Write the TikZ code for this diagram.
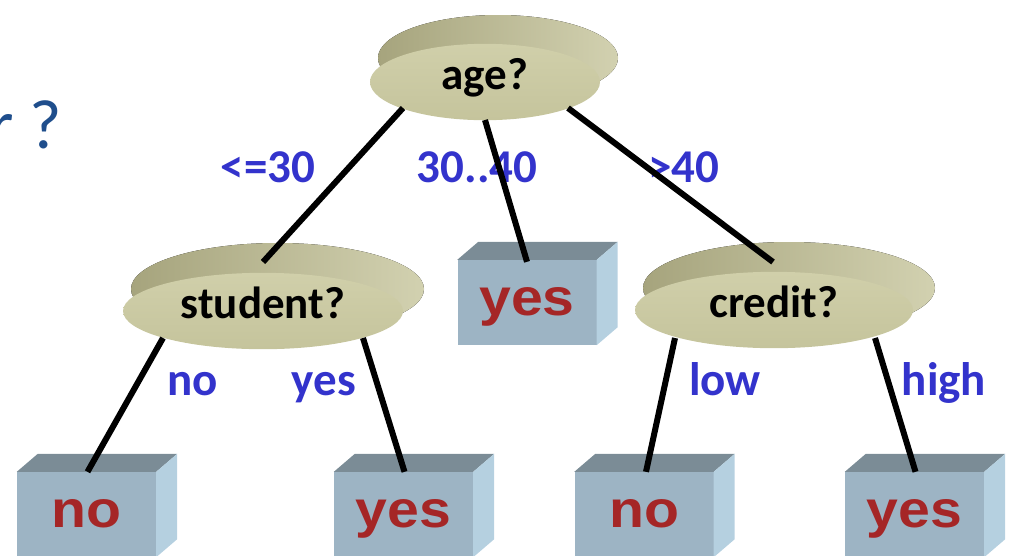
\documentclass[tikz,border=0pt]{standalone}
\usepackage{fontspec}
\setmainfont{Carlito}
\newfontfamily\leaffont{Liberation Sans}[FakeStretch=1.1]
\usetikzlibrary{backgrounds,shapes.geometric}
\definecolor{DiscDark}{HTML}{A6A47D}
\definecolor{DiscLight}{HTML}{D2D1B0}
\definecolor{DiscFace}{HTML}{C5C49C}
\definecolor{DiscFaceTop}{HTML}{D0CFAA}
\definecolor{BoxFront}{HTML}{9DB4C4}
\definecolor{BoxTop}{HTML}{7B8C96}
\definecolor{BoxSide}{HTML}{B5D0E0}
\definecolor{LeafRed}{HTML}{A52626}
\definecolor{EdgeBlue}{HTML}{3333CC}
\definecolor{TitleBlue}{HTML}{1F4E8C}

\begin{document}
\begin{tikzpicture}[x=1pt,y=-1pt]
    \tikzstyle{test}=[ellipse,top color=DiscFaceTop,bottom color=DiscFace,inner sep=0pt,
      minimum height=76pt,text height=34pt,text depth=20pt,
      font=\fontsize{45}{50}\selectfont\bfseries]
    \tikzstyle{leaf}=[fill=BoxFront,minimum width=139pt,minimum height=85pt,inner sep=0pt,
      text height=25pt,text depth=0pt,text=LeafRed,
      font=\fontsize{52}{56}\leaffont\bfseries]
    \tikzstyle{branch}=[anchor=base,inner sep=0pt,text=EdgeBlue,
      font=\fontsize{47}{50}\selectfont\bfseries]
    \tikzstyle{edge}=[line width=6pt,black]
    \useasboundingbox (0,0) rectangle (1011,555);
    \node[anchor=base west,inner sep=0pt,text=TitleBlue,
      font=\fontsize{70}{80}\selectfont] (title) at (-11,148) {r ?};
    % tests
    \node[test,minimum width=230pt] (age) at (485,82) {age?};
    \node[test,minimum width=280pt] (student) at (263,311) {student?};
    \node[test,minimum width=278pt] (credit) at (774,310) {credit?};
    \begin{scope}[on background layer]
      \foreach \n/\dx/\dy/\rx/\ry in {age/13/-24/120/43,student/14.5/-22/146.5/46,credit/15/-22/146/46}
        \fill[left color=DiscDark,right color=DiscLight]
          ([shift={(\dx,\dy)}]\n.center) ellipse [x radius=\rx pt,y radius=\ry pt];
    \end{scope}
    % leaves
    \node[leaf] (mid) at (527,302.5) {yes};
    \node[leaf] (no1) at (86.5,514.5) {no};
    \node[leaf] (yes1) at (403.5,514.5) {yes};
    \node[leaf] (no2) at (644,514.5) {no};
    \node[leaf] (yes2) at (914.5,514.5) {yes};
    \foreach \n in {mid,no1,yes1,no2,yes2}{
      \fill[BoxTop] (\n.north west) -- ++(21,-18) -- ([shift={(21,-18)}]\n.north east)
        -- (\n.north east) -- cycle;
      \fill[BoxSide] (\n.north east) -- ++(21,-18) -- ([shift={(21,-18)}]\n.south east)
        -- (\n.south east) -- cycle;
    }
    % branch labels
    \node[branch] (lo) at (268,182) {<=30};
    \node[branch] (md) at (477,182) {30..40};
    \node[branch] (hi) at (684,182) {>40};
    \node[branch] (sno) at (193,395) {no};
    \node[branch] (syes) at (324,395) {yes};
    \node[branch] (clow) at (725,395) {low};
    \node[branch] (chigh) at (944,395) {high};
    % edges
    \draw[edge] ([shift={(-82,26)}]age.center) -- ([shift={(0,-49)}]student.center);
    \draw[edge] ([shift={(0,38)}]age.center) -- ([shift={(0,2)}]mid.north);
    \draw[edge] ([shift={(83,26)}]age.center) -- ([shift={(-1,-48)}]credit.center);
    \draw[edge] ([shift={(-100,27)}]student.center) -- ([shift={(1,0)}]no1.north);
    \draw[edge] ([shift={(100,27)}]student.center) -- ([shift={(1,0)}]yes1.north);
    \draw[edge] ([shift={(-99,28)}]credit.center) -- ([shift={(2,0)}]no2.north);
    \draw[edge] ([shift={(101,28)}]credit.center) -- ([shift={(1,0)}]yes2.north);
  \end{tikzpicture}
\end{document}
